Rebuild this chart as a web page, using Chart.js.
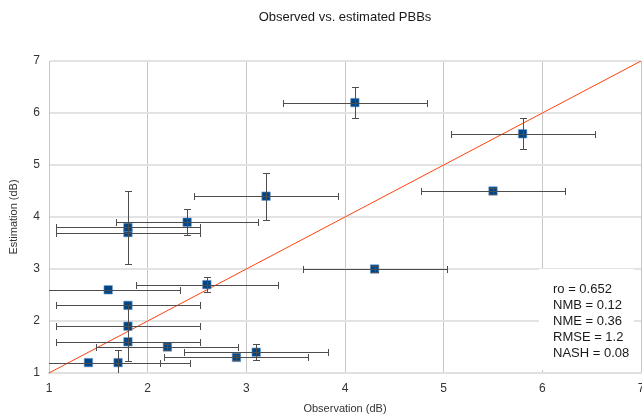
<!DOCTYPE html>
<html>
<head>
<meta charset="utf-8">
<script src="https://cdn.jsdelivr.net/npm/chart.js@4/dist/chart.umd.min.js"></script>
<style>
  html, body { margin: 0; padding: 0; background: #fff; }
  #wrap { width: 642px; height: 418px; position: relative; }
</style>
</head>
<body>
<div id="wrap"><canvas id="myChart"></canvas></div>
<script>
// observed / estimated values and their error bars (dB)
var obs      = [1.4, 1.7, 1.6, 1.8, 1.8, 1.8, 1.8, 1.8, 2.2, 2.4, 2.6, 2.9, 3.1, 3.2, 4.1, 4.3, 5.5, 5.8];
var est      = [1.2, 1.2, 2.6, 1.6, 1.9, 2.3, 3.7, 3.8, 1.5, 3.9, 2.7, 1.3, 1.4, 4.4, 6.2, 3.0, 4.5, 5.6];
var xErr     = [0.73, 0.73, 0.73, 0.73, 0.73, 0.73, 0.73, 0.73, 0.72, 0.72, 0.72, 0.73, 0.73, 0.73, 0.73, 0.73, 0.73, 0.73];
var yErrUp   = [0, 0.25, 0, 0, 0, 0, 0, 0.7, 0.05, 0.25, 0.15, 0.05, 0.15, 0.45, 0.3, 0.05, 0.05, 0.3];
var yErrDown = [0, 0.25, 0, 0, 0, 1.06, 0, 0.7, 0.05, 0.25, 0.15, 0.05, 0.15, 0.45, 0.3, 0.05, 0.05, 0.3];
var refLine  = [1, 7];   // 1:1 line ends
var axisTicks = [1, 7];  // min / max of both axes
var statLines = ['ro = 0.652', 'NMB = 0.12', 'NME = 0.36', 'RMSE = 1.2', 'NASH = 0.08'];
var chartTitle = 'Observed vs. estimated PBBs';

var FONT = '"Liberation Sans", Arial, sans-serif';

var points = obs.map(function(v, i) { return { x: v, y: est[i] }; });

// error bars drawn on top of the markers
var errorBars = {
    id: 'errorBars',
    afterDatasetsDraw: function(chart) {
        var xs = chart.scales.x, ys = chart.scales.y, a = chart.chartArea;
        var ctx = chart.ctx;
        ctx.save();
        ctx.beginPath();
        ctx.rect(a.left, a.top, a.right - a.left, a.bottom - a.top);
        ctx.clip();
        ctx.strokeStyle = '#4d4d4d';
        ctx.lineWidth = 1;
        var cap = 3.5;
        for (var i = 0; i < obs.length; i++) {
            var px = Math.round(xs.getPixelForValue(obs[i])) + 0.5;
            var py = Math.round(ys.getPixelForValue(est[i])) + 0.5;
            var x0 = Math.round(xs.getPixelForValue(obs[i] - xErr[i])) + 0.5;
            var x1 = Math.round(xs.getPixelForValue(obs[i] + xErr[i])) + 0.5;
            ctx.beginPath();
            ctx.moveTo(x0, py); ctx.lineTo(x1, py);
            ctx.moveTo(x0, py - cap); ctx.lineTo(x0, py + cap);
            ctx.moveTo(x1, py - cap); ctx.lineTo(x1, py + cap);
            ctx.stroke();
            if (yErrUp[i] + yErrDown[i] > 0) {
                var y0 = Math.round(ys.getPixelForValue(est[i] + yErrUp[i])) + 0.5;
                var y1 = Math.round(ys.getPixelForValue(est[i] - yErrDown[i])) + 0.5;
                ctx.beginPath();
                ctx.moveTo(px, y0); ctx.lineTo(px, y1);
                ctx.moveTo(px - cap, y0); ctx.lineTo(px + cap, y0);
                ctx.moveTo(px - cap, y1); ctx.lineTo(px + cap, y1);
                ctx.stroke();
            }
        }
        ctx.restore();
    }
};

// statistics box in the lower right, and the title
var extras = {
    id: 'extras',
    beforeDatasetsDraw: function(chart) {
        var ctx = chart.ctx;
        ctx.save();
        ctx.fillStyle = '#fff';
        ctx.fillRect(539, 269, 95, 101);
        ctx.fillStyle = '#1a1a1a';
        ctx.font = '13px ' + FONT;
        ctx.textBaseline = 'middle';
        ctx.textAlign = 'left';
        statLines.forEach(function(t, i) {
            ctx.fillText(t, 553, 289 + i * 16);
        });
        ctx.restore();
    },
    afterDraw: function(chart) {
        var ctx = chart.ctx, a = chart.chartArea;
        ctx.save();
        ctx.fillStyle = '#1a1a1a';
        ctx.font = '13px ' + FONT;
        ctx.textAlign = 'center';
        ctx.textBaseline = 'middle';
        ctx.fillText(chartTitle, (a.left + a.right) / 2, 17);
        ctx.restore();
    }
};

var graphData = {
    type: 'scatter',
    data: {
        datasets: [{
            label: 'PBBs',
            data: points,
            pointStyle: 'rect',
            pointRadius: 6,
            pointHoverRadius: 6,
            backgroundColor: '#004586',
            borderColor: 'rgba(114,159,207,0.6)',
            borderWidth: 1,
            order: 1
        }, {
            type: 'line',
            label: '1:1',
            data: [{ x: refLine[0], y: refLine[0] }, { x: refLine[1], y: refLine[1] }],
            borderColor: '#ff420e',
            borderWidth: 1,
            pointRadius: 0,
            fill: false,
            order: 2
        }]
    },
    options: {
        responsive: true,
        maintainAspectRatio: false,
        animation: false,
        layout: { autoPadding: false, padding: { top: 61, right: 1, left: 0, bottom: 0 } },
        plugins: {
            legend: { display: false },
            tooltip: { enabled: false },
            title: { display: false }
        },
        scales: {
            x: {
                type: 'linear',
                min: axisTicks[0],
                max: axisTicks[1],
                ticks: { stepSize: 1, color: '#333', padding: 8, font: { family: FONT, size: 12 } },
                grid: { color: '#c6c6c6', lineWidth: 1, drawTicks: false },
                border: { color: '#e0e0e0', width: 2 },
                title: { display: true, text: 'Observation (dB)', color: '#333', font: { family: FONT, size: 11 }, padding: { top: 15, bottom: 2 } },
                afterFit: function(s) { s.height = 45; s.paddingLeft = 0; s.paddingRight = 0; }
            },
            y: {
                type: 'linear',
                min: axisTicks[0],
                max: axisTicks[1],
                ticks: { stepSize: 1, color: '#333', padding: 9, font: { family: FONT, size: 12 } },
                grid: { color: '#e3e3e3', lineWidth: 2, drawTicks: false },
                border: { color: '#c6c6c6', width: 1 },
                title: { display: true, text: 'Estimation (dB)', color: '#333', font: { family: FONT, size: 11 }, padding: { top: 7 } },
                afterFit: function(s) { s.width = 49; s.paddingTop = 0; s.paddingBottom = 0; }
            }
        }
    },
    plugins: [extras, errorBars]
};

var ctx = document.getElementById('myChart');
var myChart = new Chart(ctx, graphData);
</script>
</body>
</html>
